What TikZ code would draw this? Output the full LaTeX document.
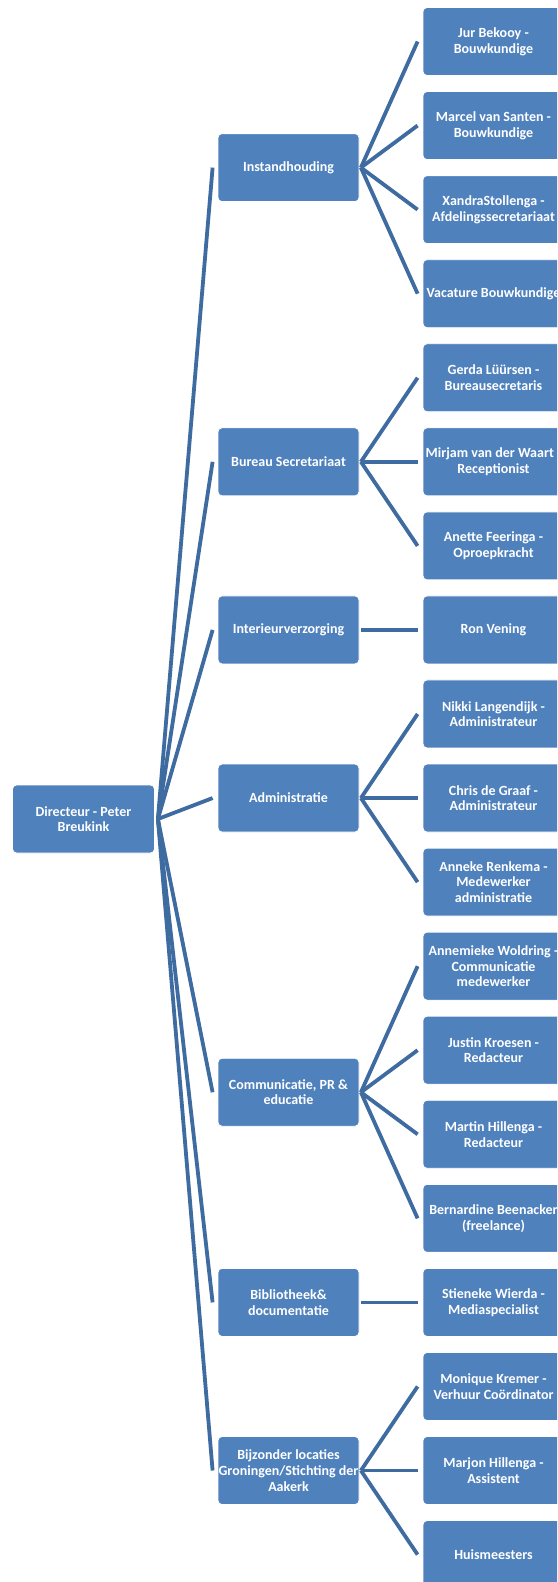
\documentclass[tikz,border=0pt]{standalone}
\usepackage{fontspec}
\setmainfont{Carlito}
\usetikzlibrary{calc}
\definecolor{boxblue}{RGB}{79,129,189}
\definecolor{lineblue}{RGB}{63,108,160}
\tikzset{
  orgbox/.style={rectangle, rounded corners=4pt, fill=boxblue, draw=white, line width=0.8pt,
    minimum width=141pt, minimum height=68pt, inner sep=0pt, align=center, text=white,
    font=\bfseries\fontsize{14}{15.7}\selectfont},
  conn/.style={draw=lineblue, line width=3.8pt}
}
\begin{document}
\begin{tikzpicture}[x=1pt,y=-1pt]
\clip (0,0) rectangle (557,1582);
\fill[white] (0,0) rectangle (557,1582);
% director
\node[orgbox, minimum width=142pt] (dir) at (83.5,819) {Directeur - Peter\\Breukink};
% middle level
\node[orgbox] (m1) at (288.5,167.6) {Instandhouding};
\node[orgbox] (m2) at (288.5,461.8) {Bureau Secretariaat};
\node[orgbox] (m3) at (288.5,629.92) {Interieurverzorging};
\node[orgbox] (m4) at (288.5,798.04) {Administratie};
\node[orgbox] (m5) at (288.5,1092.25) {Communicatie, PR \&\\educatie};
\node[orgbox] (m6) at (288.5,1302.4) {Bibliotheek\&\\documentatie};
\node[orgbox] (m7) at (288.5,1470.52) {Bijzonder locaties\\Groningen/Stichting der\\Aakerk};
% right level
\node[orgbox] (c1) at (493.5,41.5) {Jur Bekooy -\\Bouwkundige};
\node[orgbox] (c2) at (493.5,125.56) {Marcel van Santen -\\Bouwkundige};
\node[orgbox] (c3) at (493.5,209.62) {XandraStollenga -\\Afdelingssecretariaat};
\node[orgbox] (c4) at (493.5,293.68) {Vacature Bouwkundige};
\node[orgbox] (c5) at (493.5,377.74) {Gerda Lüürsen -\\Bureausecretaris};
\node[orgbox] (c6) at (493.5,461.8) {Mirjam van der Waart -\\Receptionist};
\node[orgbox] (c7) at (493.5,545.86) {Anette Feeringa -\\Oproepkracht};
\node[orgbox] (c8) at (493.5,629.92) {Ron Vening};
\node[orgbox] (c9) at (493.5,713.98) {Nikki Langendijk -\\Administrateur};
\node[orgbox] (c10) at (493.5,798.04) {Chris de Graaf -\\Administrateur};
\node[orgbox] (c11) at (493.5,882.1) {Anneke Renkema -\\Medewerker\\administratie};
\node[orgbox] (c12) at (493.5,966.16) {Annemieke Woldring -\\Communicatie\\medewerker};
\node[orgbox] (c13) at (493.5,1050.22) {Justin Kroesen -\\Redacteur};
\node[orgbox] (c14) at (493.5,1134.28) {Martin Hillenga -\\Redacteur};
\node[orgbox] (c15) at (493.5,1218.34) {Bernardine Beenacker\\(freelance)};
\node[orgbox] (c16) at (493.5,1302.4) {Stieneke Wierda -\\Mediaspecialist};
\node[orgbox] (c17) at (493.5,1386.46) {Monique Kremer -\\Verhuur Coördinator};
\node[orgbox] (c18) at (493.5,1470.52) {Marjon Hillenga -\\Assistent};
\node[orgbox] (c19) at (493.5,1554.58) {Huismeesters};
% connectors director -> middle
\foreach \m in {m1,m2,m3,m4,m5,m6,m7}{
  \draw[conn] ($(dir.east)+(3,0)$) -- ($(\m.west)+(-5,0)$);
}
% connectors middle -> right
\foreach \m/\c in {m1/c1,m1/c2,m1/c3,m1/c4,m2/c5,m2/c6,m2/c7,m3/c8,m4/c9,m4/c10,m4/c11,m5/c12,m5/c13,m5/c14,m5/c15,m6/c16,m7/c17,m7/c18,m7/c19}{
  \draw[conn] ($(\m.east)+(1.5,0)$) -- ($(\c.west)+(-5,0)$);
}
\end{tikzpicture}
\end{document}
